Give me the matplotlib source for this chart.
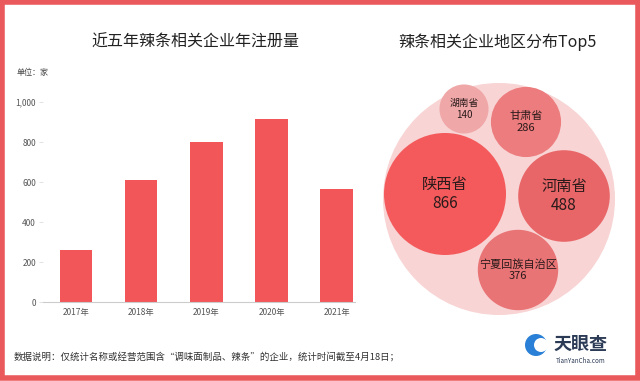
import numpy as np
import matplotlib
matplotlib.use("Agg")
import matplotlib.pyplot as plt
import matplotlib.patches as patches

plt.rcParams['font.family'] = ['Noto Sans CJK SC', 'DejaVu Sans']

# Data
years = ["2017年", "2018年", "2019年", "2020年", "2021年"]
registrations = [260, 610, 800, 915, 565]

provinces = ["陕西省", "河南省", "甘肃省", "湖南省", "宁夏回族自治区"]
province_counts = [866, 488, 286, 140, 376]

# Layout (pixels, image coords)
W, H = 640, 381
bubble_centers = [(445, 194), (564, 196), (526, 122), (464, 109), (518, 270)]
bubble_colors = ["#f45a5c", "#e86668", "#ec7c7e", "#f0a7a8", "#e97476"]
bubble_font = [11, 11, 8, 7, 8]
outer_center, outer_r = (499, 199), 116
RED = "#f25659"

fig = plt.figure(figsize=(W / 100, H / 100), dpi=100)
fig.patch.set_facecolor("white")

# Bar chart
ax = fig.add_axes([43 / W, (H - 302) / H, (355 - 43) / W, 200 / H])
x = np.arange(len(years))
ax.bar(x, registrations, width=0.5, color=RED, zorder=2)
ax.set_xlim(-0.506, 4.28)
ax.set_ylim(0, 1000)
ax.set_yticks([0, 200, 400, 600, 800, 1000])
ax.set_yticklabels(["0", "200", "400", "600", "800", "1,000"])
ax.set_xticks(x)
ax.set_xticklabels(years)
for s in ["left", "top", "right"]:
    ax.spines[s].set_visible(False)
ax.spines["bottom"].set_color("#cccccc")
ax.spines["bottom"].set_linewidth(0.8)
ax.tick_params(axis="y", length=3, width=0.6, color="#dddddd", labelsize=6, labelcolor="#555555", pad=2)
ax.tick_params(axis="x", length=0, labelsize=6, labelcolor="#555555", pad=4)
ax.patch.set_alpha(0)

fig.text(195 / W, 1 - 42 / H, "近五年辣条相关企业年注册量", ha="center", va="center",
         fontsize=11.5, color="#222222")
fig.text(17 / W, 1 - 72 / H, "单位：家", ha="left", va="center", fontsize=5.8, color="#444444")

# Bubble chart
bx = fig.add_axes([0, 0, 1, 1], zorder=3)
bx.set_xlim(0, W)
bx.set_ylim(H, 0)
bx.axis("off")
bx.patch.set_alpha(0)

bx.add_patch(patches.Circle(outer_center, outer_r, color="#f8d4d4", lw=0))
k = 61 / np.sqrt(max(province_counts))
for name, val, c, col, fs in zip(provinces, province_counts, bubble_centers, bubble_colors, bubble_font):
    bx.add_patch(patches.Circle(c, k * np.sqrt(val), color=col, lw=0))
    bx.text(c[0], c[1], f"{name}\n{val}", ha="center", va="center", fontsize=fs,
            color="#2a1a1a", linespacing=1.15)

fig.text(497 / W, 1 - 42 / H, "辣条相关企业地区分布Top5", ha="center", va="center",
         fontsize=11.5, color="#222222")

# Footer
fig.text(14 / W, 1 - 357 / H,
         "数据说明：仅统计名称或经营范围含“调味面制品、辣条”的企业，统计时间截至4月18日；",
         ha="left", va="center", fontsize=6.8, color="#333333")
bx.add_patch(patches.Circle((536, 345), 11, color="#2a80d6", lw=0))
bx.add_patch(patches.Circle((541, 345), 7, color="white", lw=0))
fig.text(581 / W, 1 - 344 / H, "天眼查", ha="center", va="center", fontsize=13,
         color="#2b3a55", fontweight="bold")
fig.text(581 / W, 1 - 361 / H, "TianYanCha.com", ha="center", va="center", fontsize=4.5,
         color="#2b3a55")

# Border
bx.add_patch(patches.Rectangle((2, 2), W - 4.5, H - 5, fill=False, ec="#ea5a5c", lw=4))

fig.savefig("out.png", dpi=100, facecolor="white")
